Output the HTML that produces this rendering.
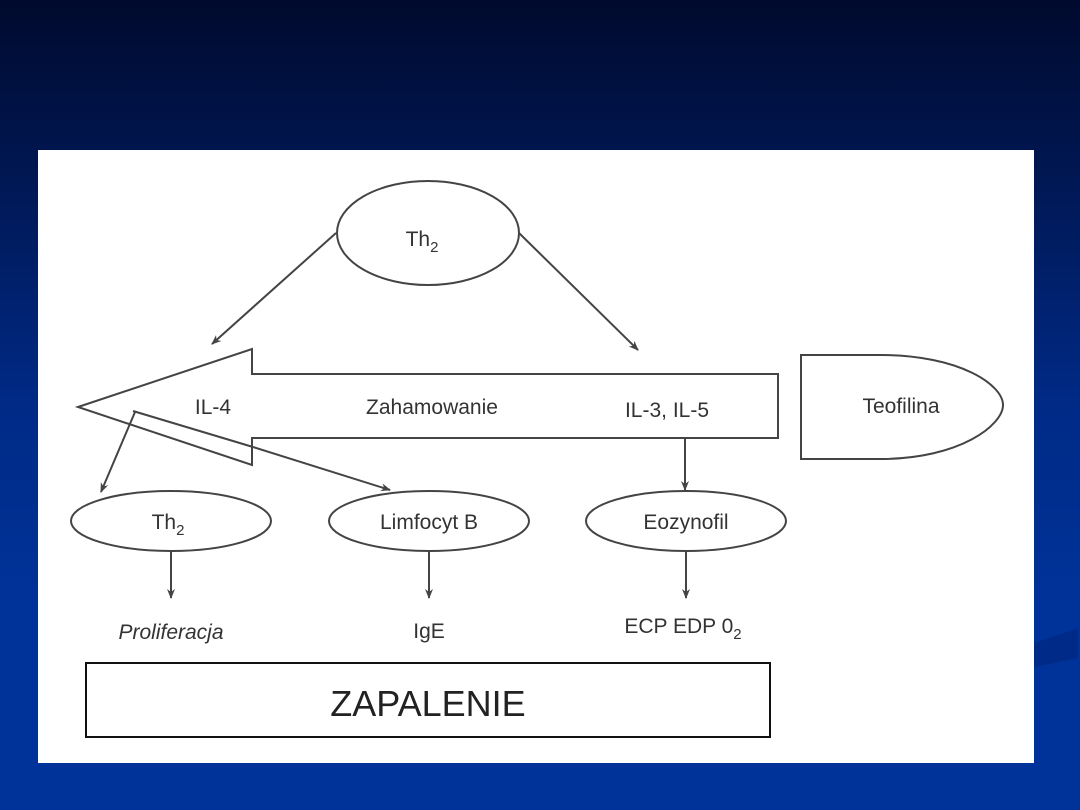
<!DOCTYPE html>
<html><head><meta charset="utf-8"><style>
html,body{margin:0;padding:0;}
body{width:1080px;height:810px;overflow:hidden;background:linear-gradient(180deg,#000a2e 0%,#001650 20%,#002a86 50%,#003399 75%,#003399 100%);position:relative;font-family:"Liberation Sans",sans-serif;}
svg{position:absolute;left:0;top:0;}
</style></head><body>
<svg width="1080" height="810" viewBox="0 0 1080 810">
<path d="M1034,643 L1078,628 L1078,658 L1034,667 Z" fill="#002a88"/>
<rect x="38" y="150" width="996" height="613" fill="#ffffff"/>
<defs><marker id="a" markerWidth="10" markerHeight="10" refX="9" refY="5" orient="auto" markerUnits="userSpaceOnUse"><path d="M0,1 L10,5 L0,9 L3,5 Z" fill="#444"/></marker></defs>
<g stroke="#444" stroke-width="2" fill="none" font-family="Liberation Sans, sans-serif">
<ellipse cx="428" cy="233" rx="91" ry="52"/>
<path d="M78,407 L252,349 L252,374 L778,374 L778,438 L252,438 L252,465 Z" fill="#fff"/>
<path d="M133,411 L253,447" />
<path d="M801,355 L880,355 C960,355 1003,385 1003,405 C1003,425 960,459 880,459 L801,459 Z"/>
<line x1="336" y1="233" x2="212" y2="344" marker-end="url(#a)"/>
<line x1="519" y1="233" x2="638" y2="350" marker-end="url(#a)"/>
<line x1="135" y1="412" x2="101" y2="492" marker-end="url(#a)"/>
<line x1="253" y1="447" x2="390" y2="490" marker-end="url(#a)"/>
<line x1="685" y1="438" x2="685" y2="490" marker-end="url(#a)"/>
<ellipse cx="171" cy="521" rx="100" ry="30"/>
<ellipse cx="429" cy="521" rx="100" ry="30"/>
<ellipse cx="686" cy="521" rx="100" ry="30"/>
<line x1="171" y1="551" x2="171" y2="598" marker-end="url(#a)"/>
<line x1="429" y1="551" x2="429" y2="598" marker-end="url(#a)"/>
<line x1="686" y1="551" x2="686" y2="598" marker-end="url(#a)"/>
<rect x="86" y="663" width="684" height="74" stroke="#111" stroke-width="2"/>
</g>
<g fill="#333" font-family="Liberation Sans, sans-serif" font-size="21" text-anchor="middle">
<text x="422" y="246">Th<tspan font-size="15" dy="6">2</tspan></text>
<text x="213" y="414">IL-4</text>
<text x="432" y="414">Zahamowanie</text>
<text x="667" y="417">IL-3, IL-5</text>
<text x="901" y="413">Teofilina</text>
<text x="168" y="529">Th<tspan font-size="15" dy="6">2</tspan></text>
<text x="429" y="529">Limfocyt B</text>
<text x="686" y="529">Eozynofil</text>
<text x="171" y="639" font-style="italic">Proliferacja</text>
<text x="429" y="638">IgE</text>
<text x="683" y="633">ECP EDP 0<tspan font-size="15" dy="6">2</tspan></text>
<text x="428" y="716" font-size="36" fill="#222">ZAPALENIE</text>
</g>
</svg>
</body></html>
